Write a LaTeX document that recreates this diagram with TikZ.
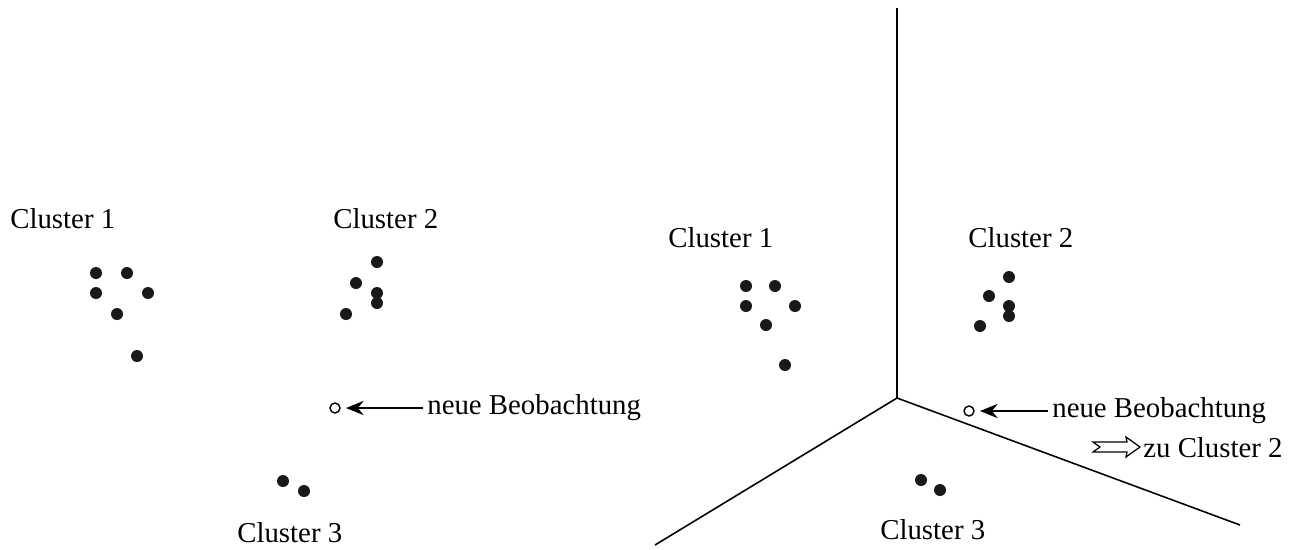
\documentclass[tikz,border=0pt]{standalone}
\usepackage{fontspec}
\setmainfont{Liberation Serif}
\usetikzlibrary{arrows.meta}
\tikzset{
  pt/.style={circle,fill=black!90,inner sep=0pt,minimum size=0.24cm},
  neu/.style={circle,draw,line width=0.8pt,inner sep=0pt,minimum size=0.2cm},
  lbl/.style={anchor=west,inner sep=0pt,font=\fontsize{16.4}{19}\selectfont},
  zeig/.style={line width=1.6pt,shorten <=2pt,shorten >=3pt,-{Stealth[length=10pt,width=8pt]}}
}
\begin{document}
\begin{tikzpicture}[x=0.02cm,y=-0.02cm]
   \useasboundingbox (0,0) rectangle (1298,549);
   % left: clusters without borders
   \node[lbl] (l1) at (10,219) {Cluster 1};
   \node[lbl] (l2) at (333,219) {Cluster 2};
   \node[lbl] (l3) at (237,533) {Cluster 3};
   \node[pt] (a1) at (96,273) {};
   \node[pt] (a2) at (127,273) {};
   \node[pt] (a3) at (96,293) {};
   \node[pt] (a4) at (148,293) {};
   \node[pt] (a5) at (117,314) {};
   \node[pt] (a6) at (137,356) {};
   \node[pt] (b1) at (377,262) {};
   \node[pt] (b2) at (356,283) {};
   \node[pt] (b3) at (377,293) {};
   \node[pt] (b4) at (377,303) {};
   \node[pt] (b5) at (346,314) {};
   \node[pt] (c1) at (283,481) {};
   \node[pt] (c2) at (304,491) {};
   \node[neu] (n) at (335,408) {};
   \node[lbl] (nt) at (427,408) {neue Beobachtung};
   \draw[zeig] (nt.west) -- (n.east);
   % right: space split into regions
   \coordinate (m) at (897,398);
   \coordinate (top) at (897,8);
   \coordinate (sw) at (655,545);
   \coordinate (se) at (1240,525);
   \draw[line width=0.9pt] (m) -- (top);
   \draw[line width=0.9pt] (m) -- (sw);
   \draw[line width=0.9pt] (m) -- (se);
   \node[lbl] (r1) at (668,238) {Cluster 1};
   \node[lbl] (r2) at (968,238) {Cluster 2};
   \node[lbl] (r3) at (880,530) {Cluster 3};
   \node[pt] (d1) at (746,286) {};
   \node[pt] (d2) at (775,286) {};
   \node[pt] (d3) at (746,306) {};
   \node[pt] (d4) at (795,306) {};
   \node[pt] (d5) at (766,325) {};
   \node[pt] (d6) at (785,365) {};
   \node[pt] (e1) at (1009,277) {};
   \node[pt] (e2) at (989,296) {};
   \node[pt] (e3) at (1009,306) {};
   \node[pt] (e4) at (1009,316) {};
   \node[pt] (e5) at (980,326) {};
   \node[pt] (f1) at (921,480) {};
   \node[pt] (f2) at (940,490) {};
   \node[neu] (rn) at (969,411) {};
   \node[lbl] (rnt) at (1052,411) {neue Beobachtung};
   \draw[zeig] (rnt.west) -- (rn.east);
   \node[lbl] (zu) at (1143,448) {zu Cluster 2};
   \coordinate (zs) at (1093,447);
   % hollow arrow
   \draw[line width=0.7pt,line join=miter] (zs) ++(0,-5) -- ++(34,0) -- ++(-1,-5) -- ++(14,10)
      -- ++(-14,10) -- ++(1,-5) -- ++(-34,0) -- ++(7,-5) -- cycle;
\end{tikzpicture}
\end{document}
